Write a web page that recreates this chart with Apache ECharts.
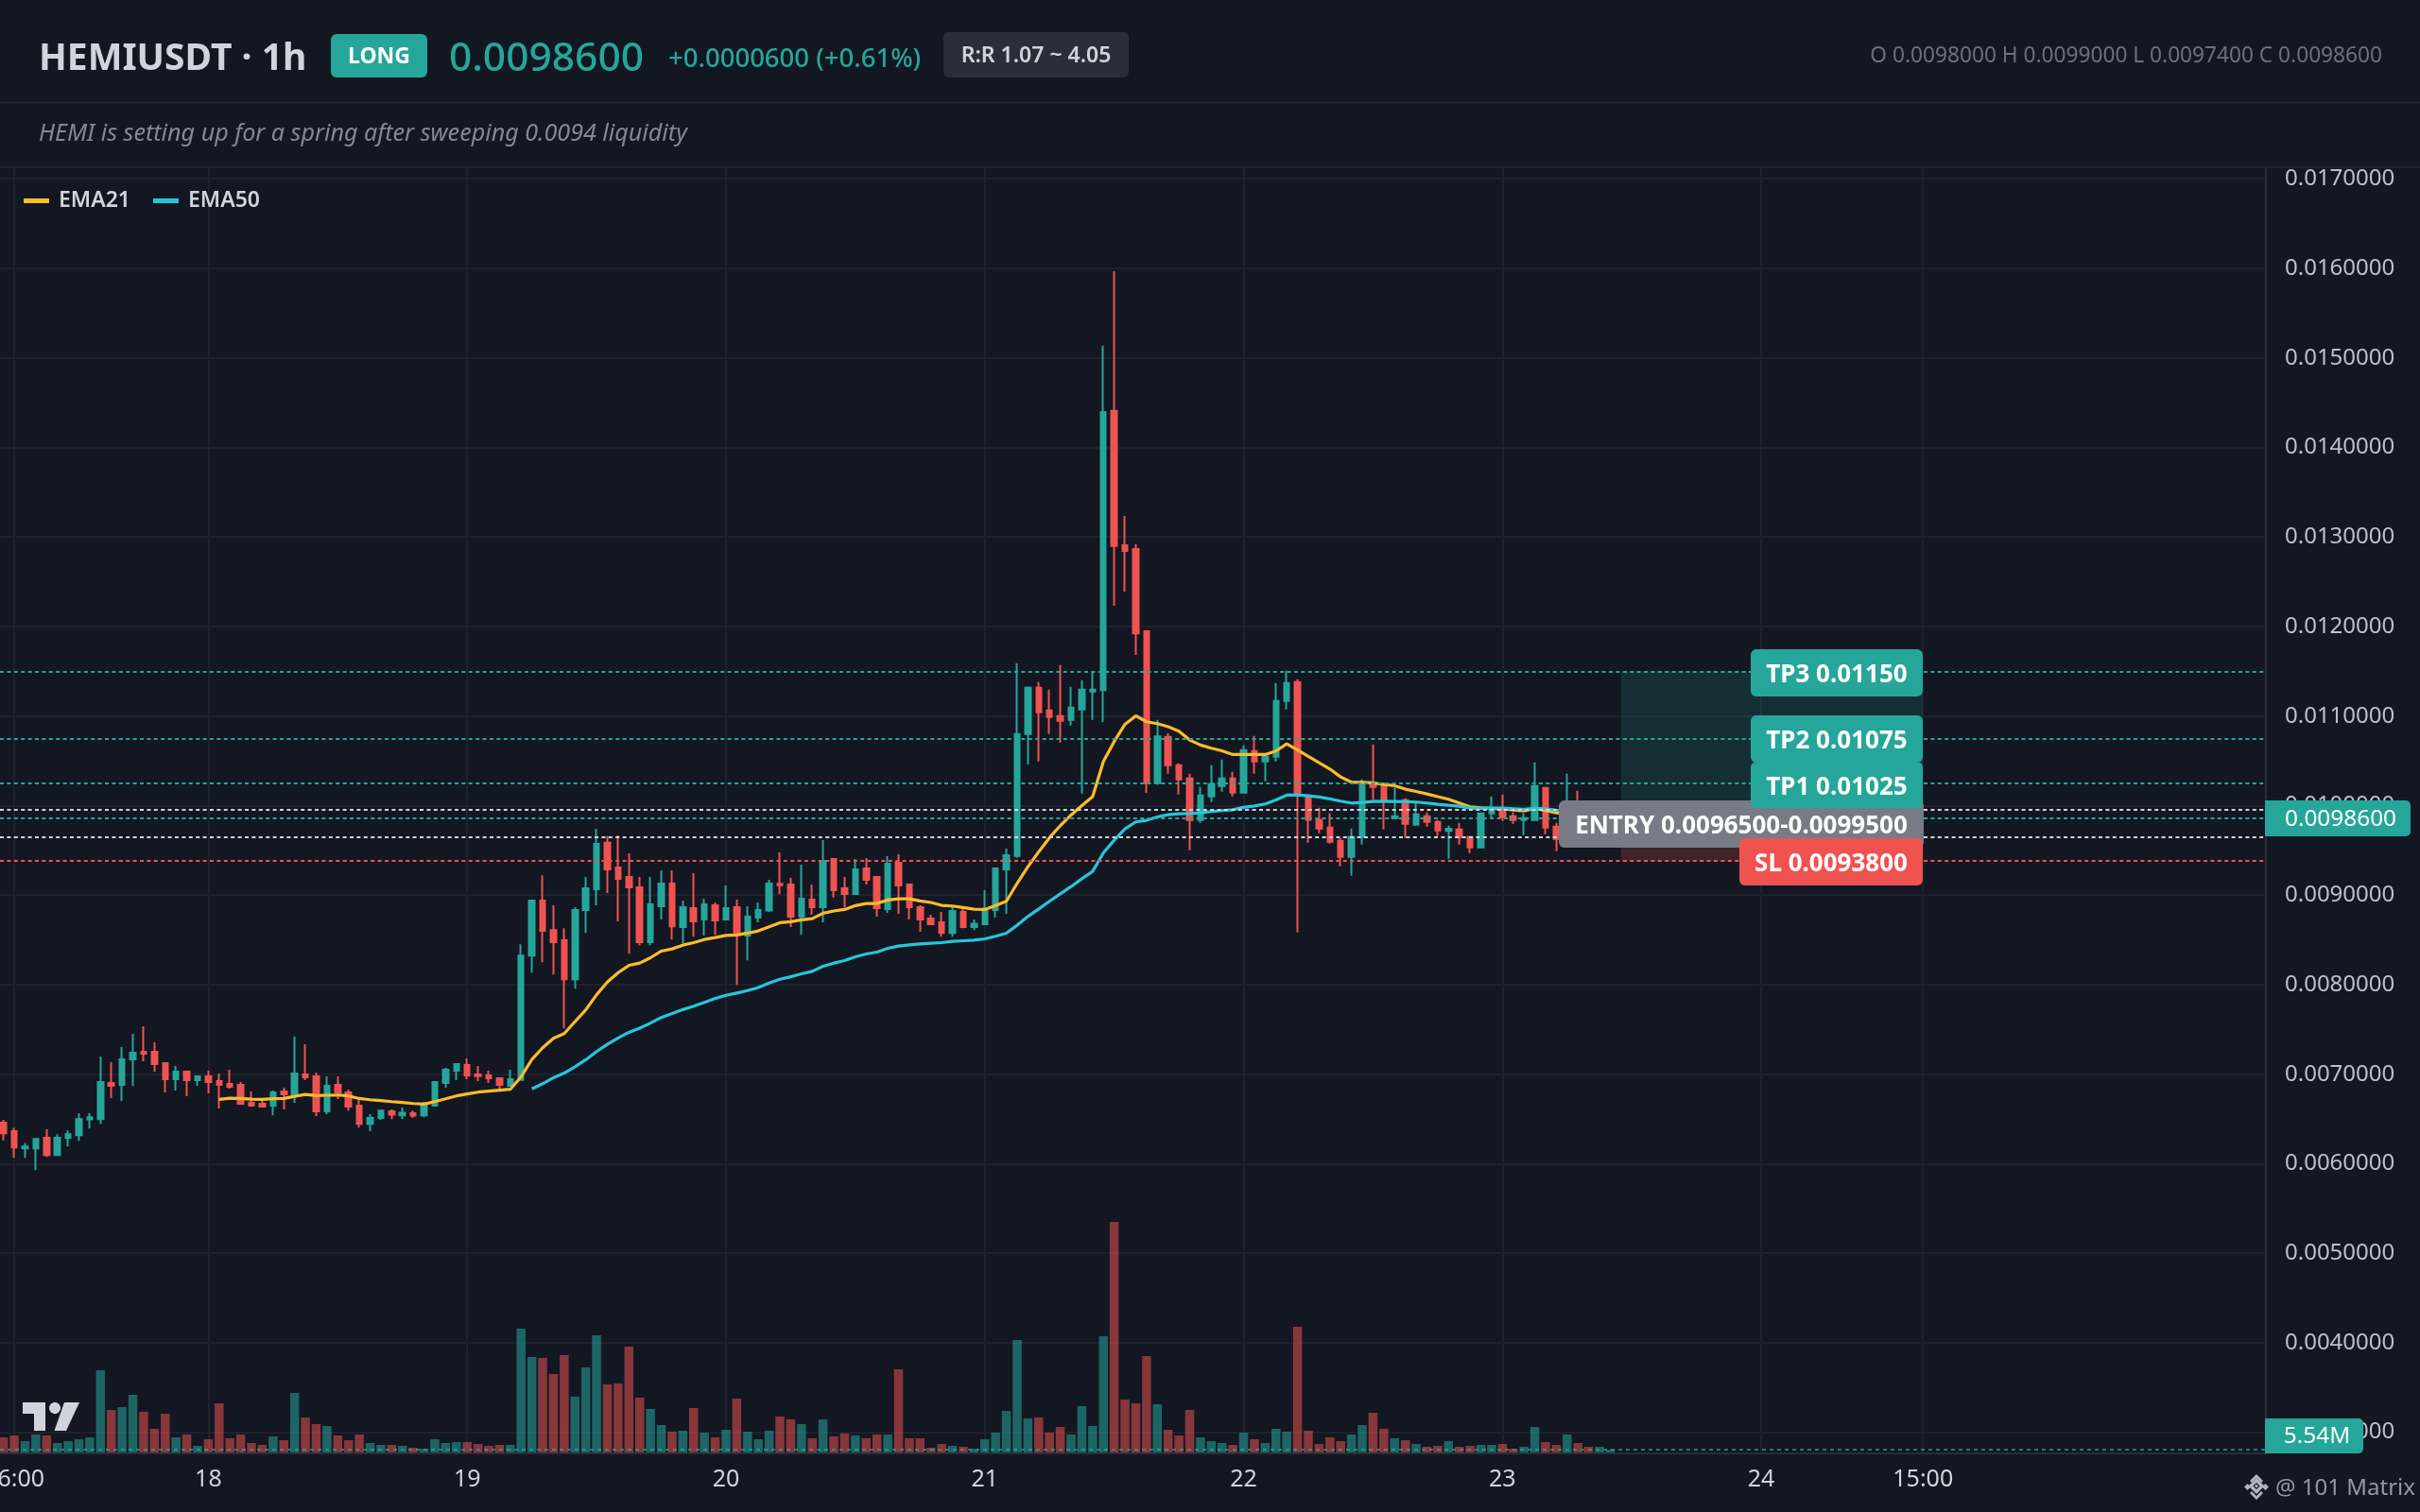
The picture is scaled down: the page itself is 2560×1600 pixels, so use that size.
<!DOCTYPE html>
<html><head><meta charset="utf-8">
<style>html,body{margin:0;padding:0;background:#131722}#c{width:2560px;height:1600px}</style>
<script src="https://cdn.jsdelivr.net/npm/echarts@6/dist/echarts.min.js"></script>
</head><body><div id="c"></div>
<script>
// hours since 00:00 on the 18th; first candle is at hour -19
const firstHour = -19;
const opens = [0.006457,0.006362,0.006171,0.006171,0.006288,0.006097,0.006288,0.006319,0.006496,0.006499,0.006901,0.006880,0.007166,0.007250,0.007250,0.007123,0.006944,0.007028,0.006933,
0.006975,0.006922,0.006891,0.006880,0.006679,0.006668,0.006647,0.006806,0.006753,0.006996,0.006975,0.006584,0.006880,0.006795,0.006647,0.006446,0.006510,0.006584,0.006541,0.006563,0.006541,0.006647,0.006901,0.007039,
0.007102,0.006996,0.006986,0.006954,0.006870,0.006935,0.008324,0.008938,0.008610,0.008494,0.008060,0.008832,0.009065,0.009584,0.009309,0.009203,0.009086,0.008473,0.008875,0.009129,0.008642,0.008854,0.008727,0.008885,
0.008727,0.008864,0.008547,0.008748,0.008829,0.009125,0.009118,0.008758,0.008949,0.008864,0.009404,0.009076,0.009012,0.009298,0.009203,0.008843,0.009361,0.009118,0.008864,0.008737,0.008695,0.008578,0.008811,0.008642,
0.008674,0.008832,0.009287,0.009437,0.010799,0.011316,0.011063,0.011000,0.010957,0.011074,0.011274,0.011289,0.014409,0.012906,0.012866,0.011947,0.010249,0.010767,0.010451,0.010303,0.009838,0.010102,0.010218,0.010303,
0.010144,0.010609,0.010493,0.010546,0.011169,0.011380,0.010099,0.009838,0.009754,0.009606,0.009426,0.009648,0.010239,0.010239,0.009859,0.010060,0.009785,0.009880,0.009817,0.009718,0.009732,0.009648,0.009532,0.009912,
0.009958,0.009880,0.009838,0.009838,0.010197,0.009764,0.009640,0.009950,0.009850,0.009770,0.009800];
const closes = [0.006340,0.006182,0.006192,0.006277,0.006097,0.006288,0.006330,0.006499,0.006520,0.006912,0.006870,0.007166,0.007240,0.007229,0.007113,0.006944,0.007028,0.006933,0.006975,
0.006912,0.006880,0.006859,0.006668,0.006647,0.006637,0.006795,0.006774,0.007007,0.006965,0.006584,0.006870,0.006795,0.006637,0.006446,0.006510,0.006594,0.006549,0.006570,0.006538,0.006665,0.006912,0.007049,0.007113,
0.006986,0.006979,0.006954,0.006880,0.006944,0.008324,0.008938,0.008600,0.008473,0.008060,0.008832,0.009076,0.009573,0.009287,0.009182,0.009086,0.008473,0.008896,0.009129,0.008652,0.008864,0.008705,0.008896,0.008716,
0.008854,0.008568,0.008758,0.008832,0.009129,0.009111,0.008758,0.008959,0.008864,0.009383,0.009055,0.009012,0.009287,0.009171,0.008854,0.009351,0.009107,0.008864,0.008727,0.008674,0.008578,0.008822,0.008642,0.008681,
0.008822,0.009298,0.009446,0.010799,0.011316,0.011042,0.010989,0.010947,0.011095,0.011295,0.011295,0.014395,0.012898,0.012844,0.011924,0.010249,0.010773,0.010451,0.010292,0.009838,0.010113,0.010239,0.010303,0.010144,
0.010620,0.010493,0.010546,0.011169,0.011369,0.010113,0.009842,0.009743,0.009595,0.009426,0.009648,0.010239,0.010208,0.010060,0.009880,0.009796,0.009901,0.009817,0.009722,0.009740,0.009648,0.009532,0.009912,0.009958,
0.009870,0.009838,0.009859,0.010218,0.009754,0.009627,0.009950,0.009850,0.009770,0.009800,0.009860];
const lows = [0.006259,0.006065,0.006065,0.005928,0.006076,0.006097,0.006192,0.006256,0.006393,0.006446,0.006732,0.006700,0.006870,0.007145,0.007028,0.006795,0.006817,0.006753,0.006870,
0.006785,0.006616,0.006838,0.006668,0.006647,0.006637,0.006541,0.006605,0.006679,0.006933,0.006531,0.006552,0.006721,0.006594,0.006404,0.006362,0.006489,0.006499,0.006499,0.006510,0.006520,0.006637,0.006848,0.006933,
0.006944,0.006922,0.006901,0.006824,0.006859,0.006928,0.008134,0.008250,0.008113,0.007510,0.007954,0.008578,0.008885,0.009023,0.008705,0.008346,0.008441,0.008441,0.008727,0.008504,0.008462,0.008536,0.008547,0.008557,
0.008727,0.007996,0.008272,0.008695,0.008811,0.009012,0.008642,0.008557,0.008779,0.008695,0.008970,0.008864,0.009012,0.009118,0.008758,0.008801,0.008790,0.008727,0.008589,0.008663,0.008536,0.008536,0.008631,0.008610,
0.008674,0.008748,0.008790,0.009416,0.010461,0.010493,0.010799,0.010704,0.010894,0.010134,0.010957,0.010933,0.012231,0.012391,0.011684,0.010142,0.010231,0.010356,0.010123,0.009500,0.009806,0.010039,0.010155,0.010102,
0.010134,0.010356,0.010271,0.010493,0.011074,0.008585,0.009585,0.009690,0.009574,0.009321,0.009215,0.009564,0.010063,0.009732,0.009849,0.009637,0.009785,0.009764,0.009659,0.009405,0.009564,0.009468,0.009532,0.009859,
0.009828,0.009796,0.009669,0.009838,0.009680,0.009490,0.009560,0.009620,0.009700,0.009740,0.009740];
const highs = [0.006489,0.006400,0.006231,0.006277,0.006383,0.006330,0.006372,0.006563,0.006563,0.007198,0.007134,0.007303,0.007451,0.007536,0.007356,0.007123,0.007092,0.007028,0.006986,
0.007039,0.007007,0.007049,0.006912,0.006806,0.006711,0.006817,0.006848,0.007420,0.007335,0.007018,0.006975,0.006975,0.006827,0.006718,0.006552,0.006594,0.006605,0.006626,0.006594,0.006690,0.006919,0.007071,0.007123,
0.007176,0.007092,0.007039,0.006965,0.007049,0.008451,0.008949,0.009220,0.008885,0.008631,0.008864,0.009203,0.009742,0.009658,0.009668,0.009467,0.009203,0.009203,0.009277,0.009277,0.008938,0.009245,0.008959,0.008917,
0.009107,0.008949,0.008875,0.008917,0.009171,0.009478,0.009192,0.009340,0.009118,0.009615,0.009404,0.009203,0.009404,0.009414,0.009213,0.009435,0.009457,0.009129,0.008885,0.008779,0.008811,0.008864,0.008843,0.008727,
0.009055,0.009298,0.009520,0.011591,0.011330,0.011380,0.011295,0.011570,0.011327,0.011401,0.011496,0.015137,0.015968,0.013235,0.012920,0.011960,0.010956,0.010810,0.010472,0.010356,0.010208,0.010451,0.010514,0.010377,
0.010672,0.010778,0.010546,0.011369,0.011507,0.011412,0.010120,0.009975,0.009912,0.009637,0.009743,0.010292,0.010683,0.010250,0.010197,0.010081,0.010028,0.009923,0.009838,0.009775,0.009806,0.009648,0.009923,0.010102,
0.010123,0.009923,0.009912,0.010482,0.010208,0.009806,0.010356,0.010165,0.009900,0.009890,0.009900];
const volumesM = [29.5,33.2,22.1,35.1,33.2,18.5,22.1,25.8,29.5,160.5,83.0,88.6,112.5,79.3,46.1,75.6,29.5,35.1,12.9,
25.8,95.9,27.7,35.1,18.5,14.8,31.4,24.0,116.2,68.3,55.4,51.7,33.2,24.0,35.1,18.5,14.8,14.8,12.9,9.2,7.4,25.8,18.5,20.3,
20.3,16.6,12.9,14.8,14.8,241.7,186.3,184.5,153.1,190.0,108.9,166.1,228.8,132.8,134.7,206.6,107.0,84.9,53.5,40.6,42.4,86.7,38.7,29.5,
44.3,105.2,40.6,25.8,42.4,70.1,64.6,55.4,27.7,64.6,31.4,36.9,33.2,27.7,35.1,35.1,162.4,27.7,27.7,9.2,16.6,12.9,11.1,7.4,
25.8,38.7,81.2,219.6,66.4,68.3,38.7,49.8,35.1,90.4,51.7,226.9,450.2,103.3,95.9,188.2,94.1,44.3,33.2,83.0,29.5,22.1,18.5,14.8,
38.7,25.8,18.5,46.1,40.6,245.4,42.4,16.6,29.5,22.1,35.1,53.5,77.5,46.1,27.7,24.0,16.6,11.1,12.9,22.1,11.1,12.9,14.8,14.8,
16.6,7.4,11.1,49.8,20.3,14.8,35.1,18.5,11.1,11.1,5.54];
const ema21FirstHour = 1;
const ema21 = [0.006718,0.006732,0.006728,0.006721,0.006718,0.006725,0.006728,0.006753,0.006774,0.006760,0.006764,0.006767,0.006757,0.006728,0.006714,0.006704,0.006693,0.006683,0.006672,0.006665,0.006693,0.006725,0.006757,0.006778,0.006799,0.006810,0.006820,0.006831,
0.006970,0.007164,0.007295,0.007400,0.007453,0.007587,0.007718,0.007887,0.008028,0.008134,0.008215,0.008240,0.008300,0.008374,0.008399,0.008441,0.008469,0.008504,0.008526,0.008550,0.008554,0.008575,0.008600,0.008645,0.008691,0.008702,0.008723,0.008737,0.008797,0.008822,0.008839,0.008882,0.008906,0.008906,0.008945,0.008959,0.008959,0.008935,0.008917,0.008885,0.008878,0.008861,0.008843,0.008839,0.008882,0.008931,
0.009131,0.009317,0.009483,0.009641,0.009775,0.009894,0.010000,0.010099,0.010493,0.010715,0.010908,0.011003,0.010936,0.010915,0.010880,0.010831,0.010732,0.010676,0.010641,0.010612,0.010570,0.010570,0.010570,0.010570,
0.010609,0.010690,0.010620,0.010549,0.010479,0.010408,0.010320,0.010260,0.010260,0.010253,0.010236,0.010222,0.010183,0.010158,0.010130,0.010099,0.010070,0.010028,0.009986,0.009975,0.009968,0.009965,0.009951,0.009940,0.009968,0.009944,0.009919,0.009905,0.009900,0.009895,0.009890,0.009890];
const ema50FirstHour = 30;
const ema50 = [0.006836,0.006893,0.006960,0.007012,0.007083,0.007161,0.007252,0.007333,0.007404,0.007467,0.007513,0.007570,0.007633,0.007676,0.007721,0.007760,0.007802,0.007845,0.007880,0.007905,0.007933,0.007968,0.008018,0.008060,0.008088,0.008120,0.008148,0.008205,0.008240,0.008268,0.008310,0.008342,0.008363,0.008406,0.008430,0.008444,0.008455,0.008462,0.008469,0.008483,0.008490,0.008497,0.008511,0.008540,0.008575,
0.008663,0.008761,0.008845,0.008930,0.009014,0.009095,0.009183,0.009264,0.009472,0.009613,0.009740,0.009817,0.009835,0.009873,0.009898,0.009908,0.009912,0.009919,0.009933,0.009944,0.009954,0.009979,0.009996,0.010018,
0.010063,0.010116,0.010120,0.010109,0.010095,0.010074,0.010049,0.010028,0.010035,0.010046,0.010049,0.010046,0.010042,0.010039,0.010028,0.010014,0.010004,0.009993,0.009972,0.009968,0.009972,0.009972,0.009965,0.009958,0.009968,0.009965,0.009947,0.009945,0.009943,0.009940,0.009938,0.009936];
const tickHours = [-18,0,24,48,72,96,120,144,159];
const tickLabels = ['06:00','18','19','20','21','22','23','24','15:00'];
const priceTicks = [0.003,0.004,0.005,0.006,0.007,0.008,0.009,0.010,0.011,0.012,0.013,0.014,0.015,0.016,0.017];
const tp3 = 0.0115, tp2 = 0.01075, tp1 = 0.01025, entryHigh = 0.00995, entryLow = 0.00965, stopLoss = 0.00938, lastPrice = 0.00986, lastVolume = 5.54;
const planStartHour = 131, planEndHour = 159;

const UP='#26a69a', DOWN='#ef5350', BG='#131722', FONT='"Noto Sans"';
const candles = opens.map((o,i)=>[firstHour+i,o,closes[i],lows[i],highs[i]]);
const volData = volumesM.map((v,i)=>({value:[firstHour+i,v],itemStyle:{color:closes[i]>=opens[i]?'rgba(38,166,154,0.55)':'rgba(239,83,80,0.53)'}}));
const linePairs = (arr,start)=>arr.map((v,i)=>[start+i,v]);
const dash = (y,color)=>({yAxis:y,lineStyle:{color,type:[4,3.4],width:2}});

function tag(x0,x1,y0,y1,fill,text,z,size,opts={}){
  const r = opts.r||[6,6,6,6];
  return [
    {type:'rect',z,shape:{x:x0,y:y0,width:x1-x0,height:y1-y0,r},style:{fill}},
    {type:'text',z:z+0.5,style:{text,x:(x0+x1)/2+(opts.dx||0),y:(y0+y1)/2+(opts.dy||0),align:'center',verticalAlign:'middle',fill:opts.color||'#fff',font:`${opts.weight||700} ${size}px ${FONT}`}}
  ];
}
const txt=(text,x,y,font,fill,align='left')=>({type:'text',z:50,style:{text,x,y,font,fill,align,verticalAlign:'middle'}});

const graphics = [
  {type:'rect',z:40,shape:{x:0,y:0,width:2560,height:176},style:{fill:BG}},
  {type:'line',z:41,shape:{x1:0,y1:108.5,x2:2560,y2:108.5},style:{stroke:'#1e222d',lineWidth:2}},
  {type:'line',z:41,shape:{x1:0,y1:177,x2:2560,y2:177},style:{stroke:'#1e222d',lineWidth:2}},
  txt('HEMIUSDT · 1h',41,63,`700 39px ${FONT}`,'#d1d4dc'),
  ...tag(350,452,36,82,UP,'LONG',50,23,{dy:1}),
  txt('0.0098600',475,63,`500 42.5px ${FONT}`,UP),
  txt('+0.0000600 (+0.61%)',707,63,`500 27.5px ${FONT}`,UP),
  ...tag(998,1194,34,82,'#2a2e39','R:R 1.07 ~ 4.05',50,23,{weight:600,color:'#d1d4dc',dy:1}),
  txt('O 0.0098000 H 0.0099000 L 0.0097400 C 0.0098600',2520,60,`400 22.7px ${FONT}`,'#6c707d','right'),
  txt('HEMI is setting up for a spring after sweeping 0.0094 liquidity',41,142,`italic 400 25.1px ${FONT}`,'#858893'),
  ...tag(1649,2035,847,897,'#787b86','ENTRY 0.0096500-0.0099500',60,26,{dy:3}),
  ...tag(1840,2034,887,937,DOWN,'SL 0.0093800',61,26,{dy:3}),
  ...tag(1852,2034,806,855,UP,'TP1 0.01025',62,26,{dy:3}),
  ...tag(1852,2034,757,807,UP,'TP2 0.01075',63,26,{dy:3}),
  ...tag(1852,2034,687,737,UP,'TP3 0.01150',64,26,{dy:3}),
  ...tag(2396,2550,847,885,UP,'0.0098600',65,24.4,{weight:400,r:[0,5,5,0],dx:3,dy:1}),
  ...tag(2396,2500,1501,1538,UP,'5.54M',65,24.4,{weight:400,r:[0,5,5,0],dx:3,dy:1}),
  {type:'polygon',z:50,shape:{points:[[24,1484],[48,1484],[48,1514],[36,1514],[36,1496],[24,1496]]},style:{fill:'#d1d4dc'}},
  {type:'ellipse',z:50,shape:{cx:58,cy:1490,rx:6,ry:6},style:{fill:'#d1d4dc'}},
  {type:'polygon',z:50,shape:{points:[[68,1484],[84,1484],[70,1514],[57.5,1514]]},style:{fill:'#d1d4dc'}},
  {type:'polygon',z:50,shape:{points:[[2387,1566.5],[2393,1572.5],[2387,1578.5],[2381,1572.5]]},style:{fill:BG,stroke:'#b2b5be',lineWidth:3.5}},
  {type:'polygon',z:50,shape:{points:[[2387,1570.5],[2389,1572.5],[2387,1574.5],[2385,1572.5]]},style:{fill:'#b2b5be'}},
  {type:'polygon',z:50,shape:{points:[[2387,1560],[2394,1567],[2392,1569],[2387,1564],[2382,1569],[2380,1567]]},style:{fill:'#b2b5be'}},
  {type:'polygon',z:50,shape:{points:[[2387,1587],[2394,1580],[2392,1578],[2387,1583],[2382,1578],[2380,1580]]},style:{fill:'#b2b5be'}},
  {type:'polygon',z:50,shape:{points:[[2374,1573.5],[2377.5,1570],[2381,1573.5],[2377.5,1577]]},style:{fill:'#b2b5be'}},
  {type:'polygon',z:50,shape:{points:[[2393,1573.5],[2396.5,1570],[2400,1573.5],[2396.5,1577]]},style:{fill:'#b2b5be'}},
  txt('@ 101 Matrix',2407,1575,`400 24px ${FONT}`,'#9598a1')
];

const chart = echarts.init(document.getElementById('c'),null,{renderer:'canvas',width:2560,height:1600});
const xMin=-19.32, xMax=190.8;
chart.setOption({
  animation:false,
  backgroundColor:BG,
  textStyle:{fontFamily:FONT},
  grid:[
    {left:0,top:177,width:2397,height:1361,containLabel:false,outerBoundsMode:'none'},
    {left:0,top:1293,width:2397,height:244,containLabel:false,outerBoundsMode:'none'}
  ],
  legend:{
    left:25,top:201,itemWidth:27,itemHeight:5,itemGap:24,padding:0,
    data:[{name:'EMA21',icon:'rect'},{name:'EMA50',icon:'rect'}],
    textStyle:{color:'#d1d4dc',fontSize:23,fontFamily:FONT,fontWeight:600,padding:[0,0,0,5]}
  },
  xAxis:[
    {type:'value',gridIndex:0,min:xMin,max:xMax,
     axisLine:{show:true,onZero:false,lineStyle:{color:'#2a2e39',width:2}},
     axisTick:{show:false,customValues:tickHours},
     splitLine:{show:true,lineStyle:{color:'#1e222d',width:2}},
     axisLabel:{customValues:tickHours,margin:15,color:'#d1d4dc',fontSize:25,fontFamily:FONT,formatter:v=>tickLabels[tickHours.indexOf(v)]}},
    {type:'value',gridIndex:1,min:xMin,max:xMax,show:false,splitLine:{show:false}}
  ],
  yAxis:[
    {type:'value',gridIndex:0,position:'right',min:0.002764,max:0.017129,
     axisLine:{show:true,onZero:false,lineStyle:{color:'#2a2e39',width:2}},
     axisTick:{show:false,customValues:priceTicks},
     splitLine:{show:true,lineStyle:{color:'#1e222d',width:2}},
     axisLabel:{customValues:priceTicks,margin:20,color:'#bcc0c9',fontSize:24,fontFamily:FONT,padding:[3,0,0,0],formatter:v=>v.toFixed(7)}},
    {type:'value',gridIndex:1,min:0,max:450.2,show:false,splitLine:{show:false}}
  ],
  series:[
    {name:'Volume',type:'bar',xAxisIndex:1,yAxisIndex:1,barWidth:9.5,data:volData,z:1,
     markLine:{silent:true,precision:6,symbol:['none','none'],label:{show:false},
       data:[{yAxis:lastVolume,lineStyle:{color:'rgba(38,166,154,0.7)',type:[4,4],width:2}}]}},
    {name:'HEMIUSDT',type:'candlestick',xAxisIndex:0,yAxisIndex:0,barWidth:6,data:candles,z:2,
     itemStyle:{color:UP,color0:DOWN,borderColor:UP,borderColor0:DOWN,borderWidth:2},
     markArea:{silent:true,z:1,data:[
       [{xAxis:planStartHour,yAxis:tp3,itemStyle:{color:'rgba(38,166,154,0.16)'}},{xAxis:planEndHour,yAxis:entryHigh}],
       [{xAxis:planStartHour,yAxis:entryLow,itemStyle:{color:'rgba(239,83,80,0.2)'}},{xAxis:planEndHour,yAxis:stopLoss}]
     ]}},
    {name:'EMA21',type:'line',xAxisIndex:0,yAxisIndex:0,data:linePairs(ema21,ema21FirstHour),showSymbol:false,symbol:'none',color:'#fbbc2c',lineStyle:{color:'#fbbc2c',width:3.2},z:3},
    {name:'EMA50',type:'line',xAxisIndex:0,yAxisIndex:0,data:linePairs(ema50,ema50FirstHour),showSymbol:false,symbol:'none',color:'#26c6da',lineStyle:{color:'#26c6da',width:3.2},z:4,
     markLine:{silent:true,precision:7,symbol:['none','none'],label:{show:false},z:5,
       data:[dash(tp3,UP),dash(tp2,UP),dash(tp1,UP),dash(entryHigh,'#d1d4dc'),dash(entryLow,'#d1d4dc'),dash(stopLoss,DOWN),dash(lastPrice,UP)]}}
  ],
  graphic:{elements:graphics}
});
</script></body></html>
